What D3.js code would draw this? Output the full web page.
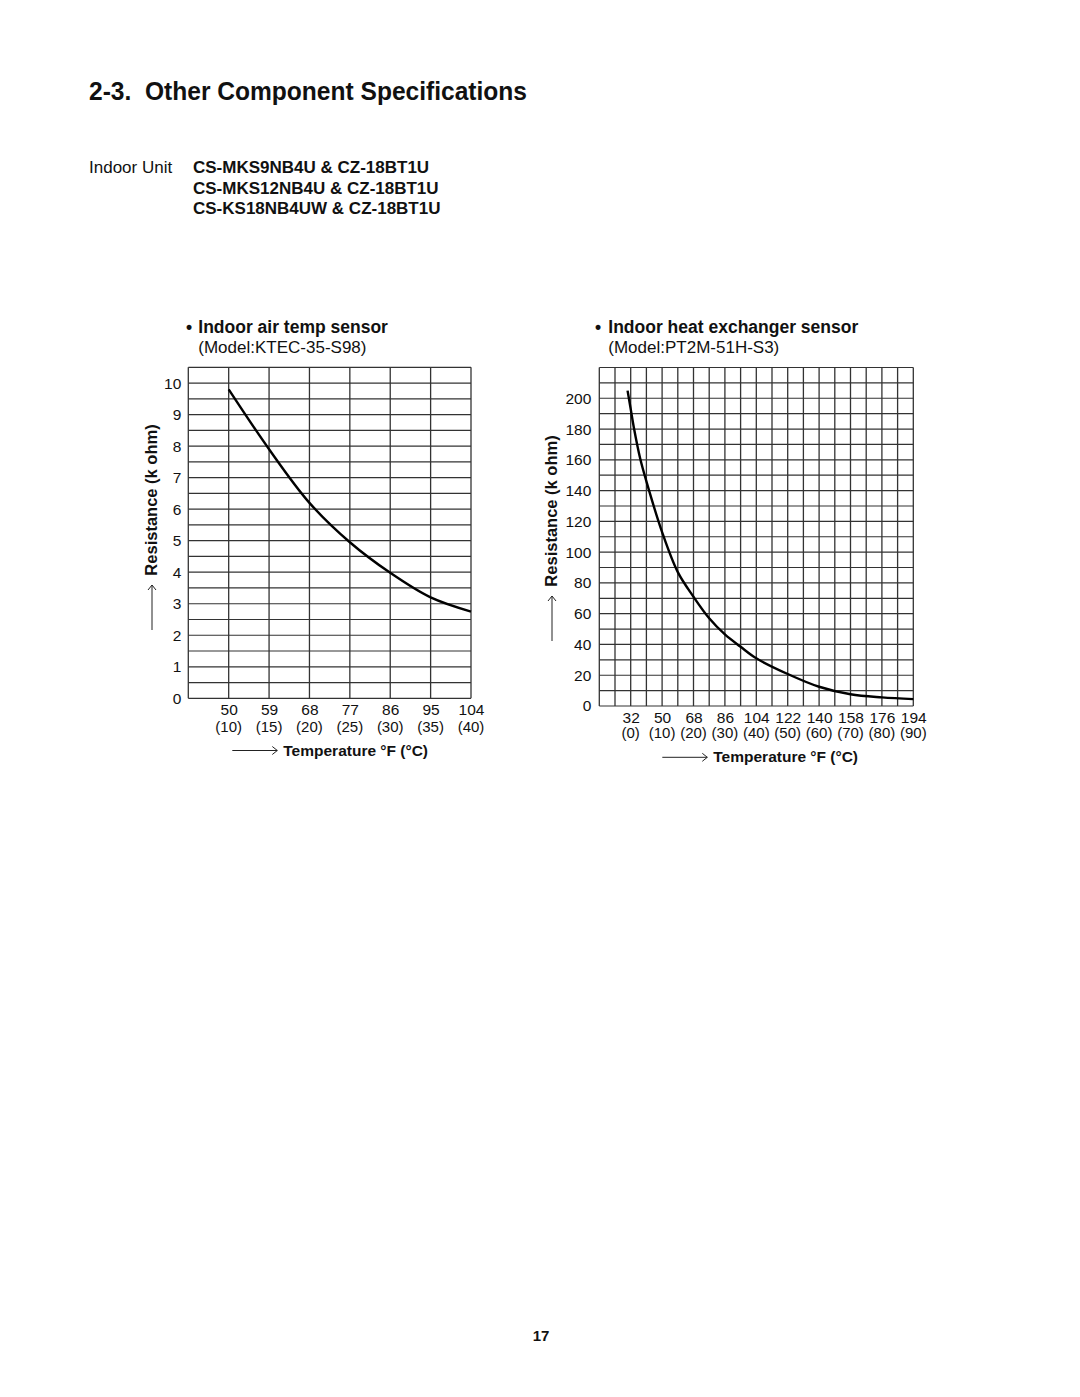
<!DOCTYPE html>
<html>
<head>
<meta charset="utf-8">
<script src="https://cdn.jsdelivr.net/npm/d3@7"></script>
<style>
html,body{margin:0;padding:0;background:#fff;}
svg{display:block;}
text{font-family:"Liberation Sans",Arial,Helvetica,sans-serif;fill:#111;}
</style>
</head>
<body>
<script>
// ---------- data ----------
const leftTempC = [10, 15, 20, 25, 30, 35, 40];
const leftTempF = [50, 59, 68, 77, 86, 95, 104];
const leftResistance = [9.8, 7.9, 6.2, 4.95, 3.98, 3.2, 2.75];
const leftYTicks = [0, 1, 2, 3, 4, 5, 6, 7, 8, 9, 10];

const rightTempC = [-1, 0, 1, 3, 5, 10, 15, 20, 25, 30, 35, 40, 50, 60, 70, 80, 90];
const rightResistance = [205, 193, 181, 161, 146, 113, 87, 71, 57, 46.5, 38.5, 31, 20.8, 12.5, 7.6, 5.6, 4.5];
const rightTickC = [0, 10, 20, 30, 40, 50, 60, 70, 80, 90];
const rightTickF = [32, 50, 68, 86, 104, 122, 140, 158, 176, 194];
const rightYTicks = [0, 20, 40, 60, 80, 100, 120, 140, 160, 180, 200];

const models = ["CS-MKS9NB4U & CZ-18BT1U", "CS-MKS12NB4U & CZ-18BT1U", "CS-KS18NB4UW & CZ-18BT1U"];

// ---------- page ----------
const svg = d3.select("body").append("svg").attr("width", 1080).attr("height", 1397);

svg.append("text").attr("x", 89).attr("y", 100)
  .attr("font-size", 25).attr("font-weight", "bold")
  .attr("textLength", 438).attr("lengthAdjust", "spacingAndGlyphs")
  .text("2-3.\u00a0\u00a0Other Component Specifications");

svg.append("text").attr("x", 89).attr("y", 173).attr("font-size", 17).text("Indoor Unit");
svg.selectAll("text.model").data(models).join("text").attr("class", "model")
  .attr("x", 193).attr("y", (d, i) => 173 + i * 20.5)
  .attr("font-size", 17).attr("font-weight", "bold").text(d => d);

svg.append("text").attr("x", 541).attr("y", 1341).attr("text-anchor", "middle")
  .attr("font-size", 15).attr("font-weight", "bold").text("17");

function arrowH(x1, x2, y) {
  svg.append("path").attr("d", `M${x1},${y}H${x2}M${x2 - 5},${y - 4}L${x2},${y}L${x2 - 5},${y + 4}`)
    .attr("fill", "none").attr("stroke", "#222").attr("stroke-width", 1);
}
function arrowV(x, y1, y2) {
  svg.append("path").attr("d", `M${x},${y1}V${y2}M${x - 4},${y2 + 5}L${x},${y2}L${x + 4},${y2 + 5}`)
    .attr("fill", "none").attr("stroke", "#222").attr("stroke-width", 1);
}

function chart(cfg) {
  const g = svg.append("g");
  const x = cfg.x, y = cfg.y;
  const [x0, x1] = x.range();
  const [y0, y1] = y.range();
  // grid
  g.selectAll("line.h").data(cfg.hLines).join("line")
    .attr("x1", x0).attr("x2", x1).attr("y1", d => y(d)).attr("y2", d => y(d))
    .attr("stroke", "#333").attr("stroke-width", 1.2);
  g.selectAll("line.v").data(cfg.vLines).join("line")
    .attr("y1", y0).attr("y2", y1).attr("x1", d => x(d)).attr("x2", d => x(d))
    .attr("stroke", "#333").attr("stroke-width", 1.3);
  // curve
  g.append("path").datum(cfg.data)
    .attr("d", d3.line().x(d => x(d[0])).y(d => y(d[1])).curve(d3.curveCatmullRom.alpha(0.5)))
    .attr("fill", "none").attr("stroke", "#000").attr("stroke-width", 2.4);
  // y axis labels
  const ya = g.append("g").attr("transform", `translate(${x0},0)`)
    .call(d3.axisLeft(y).tickValues(cfg.yTicks).tickSize(0).tickPadding(cfg.yPad));
  ya.select(".domain").remove();
  ya.selectAll("text").attr("font-size", 15.5).attr("fill", "#111")
    .attr("font-family", '"Liberation Sans",Arial,sans-serif');
  // x axis labels (°F)
  const xa = g.append("g").attr("transform", `translate(0,${cfg.fY})`)
    .call(d3.axisBottom(x).tickValues(cfg.xTicksC).tickSize(0).tickPadding(0)
      .tickFormat((d, i) => cfg.xTicksF[i]));
  xa.select(".domain").remove();
  xa.selectAll("text").attr("font-size", 15.5).attr("fill", "#111").attr("dy", 0)
    .attr("font-family", '"Liberation Sans",Arial,sans-serif');
  // °C line
  g.selectAll("text.c").data(cfg.xTicksC).join("text").attr("class", "c")
    .attr("x", d => x(d)).attr("y", cfg.cY).attr("text-anchor", "middle")
    .attr("font-size", 15).text(d => `(${d})`);
  // titles
  g.append("text").attr("x", cfg.bulletX).attr("y", 333).attr("font-size", 17.5).attr("font-weight", "bold").text("•");
  g.append("text").attr("x", cfg.titleX).attr("y", 333).attr("font-size", 17.5).attr("font-weight", "bold").text(cfg.title);
  g.append("text").attr("x", cfg.titleX).attr("y", 353).attr("font-size", 17).text(cfg.model);
  // axis titles
  g.append("text").attr("x", cfg.tempX).attr("y", cfg.tempY).attr("font-size", 15.5).attr("font-weight", "bold")
    .text("Temperature °F (°C)");
  arrowH(cfg.tempX - 51, cfg.tempX - 6, cfg.tempY - 5);
  g.append("text").attr("transform", `translate(${cfg.resX},${cfg.resY}) rotate(-90)`)
    .attr("text-anchor", "middle").attr("font-size", 16.5).attr("font-weight", "bold")
    .text("Resistance (k ohm)");
  arrowV(cfg.resX - 5, cfg.resY + 130, cfg.resY + 85);
}

// left chart
const xL = d3.scaleLinear().domain([5, 40]).range([188.3, 471]);
const yL = d3.scaleLinear().domain([0, 10.5]).range([698.3, 367.3]);
chart({
  x: xL, y: yL,
  hLines: d3.range(0, 10.51, 0.5),
  vLines: d3.range(5, 40.1, 5),
  data: leftTempC.map((c, i) => [c, leftResistance[i]]),
  yTicks: leftYTicks, yPad: 7,
  xTicksC: leftTempC, xTicksF: leftTempF,
  fY: 715, cY: 731.5,
  bulletX: 186, titleX: 198.3,
  title: "Indoor air temp sensor", model: "(Model:KTEC-35-S98)",
  tempX: 283.3, tempY: 755.5,
  resX: 157, resY: 500
});

// right chart
const xR = d3.scaleLinear().domain([-10, 90]).range([599.3, 913.3]);
const yR = d3.scaleLinear().domain([0, 220]).range([706, 367.5]);
chart({
  x: xR, y: yR,
  hLines: d3.range(0, 220.1, 10),
  vLines: d3.range(-10, 90.1, 5),
  data: rightTempC.map((c, i) => [c, rightResistance[i]]),
  yTicks: rightYTicks, yPad: 8,
  xTicksC: rightTickC, xTicksF: rightTickF,
  fY: 722.5, cY: 738,
  bulletX: 595, titleX: 608.3,
  title: "Indoor heat exchanger sensor", model: "(Model:PT2M-51H-S3)",
  tempX: 713.3, tempY: 762.3,
  resX: 557, resY: 511
});
</script>
</body>
</html>
